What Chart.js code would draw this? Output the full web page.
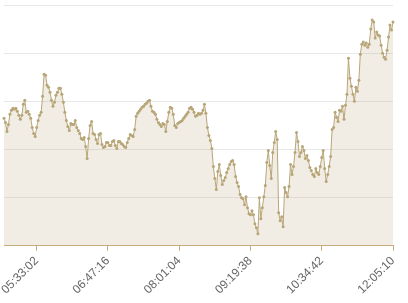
<!DOCTYPE html>
<html>
<head>
<meta charset="utf-8">
<script src="https://cdn.jsdelivr.net/npm/chart.js@4/dist/chart.umd.min.js"></script>
<style>
    html, body { margin: 0; padding: 0; background: #fff; }
    #wrap { width: 408px; height: 303px; }
</style>
</head>
<body>
<div id="wrap"><canvas id="serieChart"></canvas></div>
<script>
// Valores (escala 0 - 240, eje Y oculto)
const valores = [
    127, 123, 114, 121, 131, 135, 137, 136, 137, 134, 130, 126, 130, 141, 145, 133, 134, 131, 127, 118,
    112, 109, 118, 125, 130, 133, 149, 171, 170, 160, 158, 153, 145, 139, 143, 150, 153, 157, 157, 151,
    143, 133, 125, 119, 115, 122, 121, 121, 125, 118, 115, 112, 107, 106, 108, 99, 87, 107, 120, 124,
    112, 111, 106, 102, 111, 112, 101, 98, 99, 103, 103, 100, 100, 104, 105, 100, 97, 104, 104, 102,
    101, 99, 98, 103, 107, 111, 110, 109, 116, 129, 132, 134, 136, 138, 139, 141, 142, 144, 145, 139,
    134, 133, 131, 126, 123, 121, 119, 122, 121, 114, 124, 133, 138, 137, 131, 120, 118, 122, 123, 124,
    125, 127, 129, 131, 133, 137, 138, 136, 133, 129, 130, 132, 131, 132, 135, 141, 132, 118, 110, 105,
    97, 79, 67, 56, 74, 81, 70, 61, 65, 68, 73, 77, 81, 84, 85, 81, 69, 63, 59, 51,
    48, 47, 41, 49, 38, 32, 31, 35, 31, 22, 18, 12, 48, 27, 38, 49, 60, 83, 95, 80,
    67, 93, 103, 114, 106, 33, 25, 29, 19, 58, 53, 49, 59, 81, 71, 79, 93, 113, 104, 89,
    93, 99, 95, 87, 90, 85, 78, 75, 71, 69, 77, 73, 71, 79, 88, 95, 77, 64, 71, 79,
    89, 116, 118, 133, 128, 124, 135, 134, 139, 126, 140, 151, 187, 167, 159, 151, 144, 158, 154, 165,
    191, 201, 203, 200, 202, 198, 201, 216, 225, 223, 207, 213, 210, 209, 200, 192, 188, 186, 195, 208,
    220, 215, 223
];

// Etiquetas visibles del eje X y el paso entre ellas (en puntos)
const etiquetasX = ['05:33:02', '06:47:16', '08:01:04', '09:19:38', '10:34:42', '12:05:10'];
const pasoEtiquetas = 48;

const colorLinea = 'rgb(184, 166, 120)';
const colorRelleno = 'rgba(184, 166, 120, 0.2)';
const colorEje = 'rgb(200, 172, 125)';

// indices de las marcas, contando hacia atras desde el ultimo punto
const ultimo = valores.length - 1;
const indicesMarcas = etiquetasX.map((_, i) => ultimo - (etiquetasX.length - 1 - i) * pasoEtiquetas);

const ctx = document.getElementById('serieChart').getContext('2d');
new Chart(ctx, {
    type: 'line',
    data: {
        labels: valores.map((_, i) => i),
        datasets: [{
            data: valores,
            borderColor: colorLinea,
            borderWidth: 1,
            backgroundColor: colorRelleno,
            fill: true,
            tension: 0,
            pointRadius: 1.5,
            pointBorderWidth: 0,
            pointBackgroundColor: colorLinea
        }]
    },
    options: {
        responsive: true,
        maintainAspectRatio: false,
        animation: false,
        layout: { padding: { top: 5, right: 15, bottom: 3 } },
        plugins: {
            legend: { display: false },
            tooltip: { enabled: false }
        },
        scales: {
            x: {
                type: 'category',
                afterBuildTicks: (scale) => {
                    scale.ticks = indicesMarcas.map(v => ({ value: v }));
                },
                ticks: {
                    autoSkip: false,
                    maxRotation: 45,
                    minRotation: 45,
                    color: '#666',
                    font: { family: 'Liberation Sans', size: 12 },
                    callback: (value, index) => etiquetasX[index]
                },
                grid: {
                    drawOnChartArea: false,
                    drawTicks: true,
                    tickLength: 5,
                    color: colorEje
                },
                border: { color: colorEje, width: 1 }
            },
            y: {
                min: 0,
                max: 240,
                ticks: { display: false, stepSize: 48 },
                grid: { color: '#e8e8e8', drawTicks: false },
                border: { display: false }
            }
        }
    }
});
</script>
</body>
</html>
